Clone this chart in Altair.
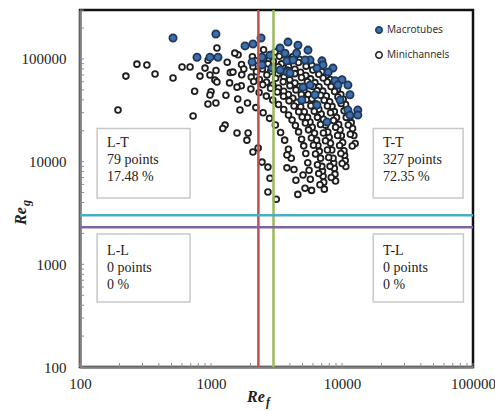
import altair as alt
import pandas as pd

# Macrotubes (Re_f, Re_g)
macro_ref = [513, 1090, 782, 982, 1130, 1820, 2090, 2410, 3365, 2060, 2450, 2820, 3800, 2920, 2450,
             3870, 3670, 4610, 5500, 5700, 7030, 7160, 6440, 8530, 8850, 10000, 11100, 9310, 5040, 6220,
             6440, 7680, 11100, 13200, 13200, 11500, 5220, 4230, 3800, 9660, 3365, 4010, 5700, 7850, 4940,
             4500, 11500]
macro_reg = [160000, 175000, 104000, 104000, 104000, 134000, 140000, 160000, 128000, 93300, 104000, 109000,
             95900, 81500, 87300, 146000, 114000, 136000, 122000, 97600, 95900, 87300, 81500, 81500, 61400,
             62900, 55700, 55700, 53200, 44800, 35600, 24300, 31800, 31800, 28400, 28400, 97600, 97600, 74500,
             39800, 78000, 72900, 55700, 74500, 39800, 114000, 44800]

# Minichannels, one run per mass flux
run1_ref = [12600, 12320, 12040, 11760, 11480, 11060, 10640, 10220, 9800, 9240, 8680, 8120, 7560, 7000,
            6440, 5880, 5320, 4760, 4200, 3640, 3080, 2520]
run1_reg = [15000, 18000, 21000, 24000, 27000, 31500, 36000, 40500, 45000, 51000, 57000, 63000, 69000,
            75000, 81000, 87000, 93000, 99000, 105000, 111000, 117000, 123000]

run1b_ref = [11970, 11571, 11172, 10773, 10374, 9842, 9310, 8778, 8246, 7714, 7182, 6650, 5985, 5320,
             4655, 3990, 3325]
run1b_reg = [14200, 18460, 22720, 26980, 31240, 36920, 42600, 48280, 53960, 59640, 65320, 71000, 78100,
             85200, 92300, 99400, 106500]

run2_ref = [10695, 10580, 10465, 10350, 10120, 9890, 9660, 9430, 9085, 8740, 8395, 8050, 7590, 7130, 6670,
            6210, 5750, 5290, 4830, 4370, 3910, 3450, 2990, 2530, 2070, 1610]
run2_reg = [8960, 10240, 11520, 12800, 15360, 17920, 20480, 23040, 26880, 30720, 34560, 38400, 43520, 48640,
            53760, 58880, 64000, 69120, 74240, 79360, 84480, 89600, 94720, 99840, 104960, 110080]

run2b_ref = [10028, 9810, 9592, 9265, 8938, 8611, 8175, 7739, 7303, 6867, 6431, 5995, 5450, 4905, 4360,
             3815, 3270, 2725, 2180]
run2b_reg = [9600, 12000, 14400, 18000, 21600, 25200, 30000, 34800, 39600, 44400, 49200, 54000, 60000,
             66000, 72000, 78000, 84000, 90000, 96000]

run3_ref = [8930, 8835, 8740, 8645, 8550, 8360, 8170, 7980, 7790, 7505, 7220, 6935, 6650, 6270, 5890, 5510,
            5130, 4750, 4370, 3990, 3610, 3230, 2850, 2470, 2090, 1710, 1330, 950]
run3_reg = [6480, 7560, 8640, 9720, 10800, 12960, 15120, 17280, 19440, 22680, 25920, 29160, 32400, 36720,
            41040, 45360, 49680, 54000, 58320, 62640, 66960, 71280, 75600, 79920, 84240, 88560, 92880, 97200]

run3b_ref = [8277, 8099, 7921, 7743, 7476, 7209, 6853, 6497, 6141, 5785, 5340, 4895, 4450, 4005, 3560,
             3115, 2670, 2225, 1780]
run3b_reg = [7000, 9000, 11000, 13000, 16000, 19000, 23000, 27000, 31000, 35000, 40000, 45000, 50000,
             55000, 60000, 65000, 70000, 75000, 80000]

run4_ref = [7332, 7254, 7176, 7098, 7020, 6864, 6708, 6552, 6396, 6162, 5928, 5694, 5460, 5148, 4836, 4524,
            4212, 3900, 3588, 3276, 2964, 2652, 2340, 2028, 1716, 1404, 1092]
run4_reg = [5400, 6300, 7200, 8100, 9000, 10800, 12600, 14400, 16200, 18900, 21600, 24300, 27000, 30600,
            34200, 37800, 41400, 45000, 48600, 52200, 55800, 59400, 63000, 66600, 70200, 73800, 77400]

run4b_ref = [6789, 6643, 6497, 6278, 6059, 5840, 5548, 5256, 4964, 4672, 4307, 3942, 3577, 3212, 2847,
             2482, 2117]
run4b_reg = [5950, 7650, 9350, 11900, 14450, 17000, 20400, 23800, 27200, 30600, 34850, 39100, 43350,
             47600, 51850, 56100, 60350]

run5_ref = [5859, 5733, 5607, 5481, 5292, 5103, 4914, 4662, 4410, 4158, 3906, 3591, 3276, 2961, 2646, 2331,
            2016, 1701, 1386, 1071]
run5_reg = [5250, 6750, 8250, 9750, 12000, 14250, 16500, 19500, 22500, 25500, 28500, 32250, 36000, 39750,
            43500, 47250, 51000, 54750, 58500, 62250]

run6_ref = [4600, 4450, 4300, 4100, 3900, 3650, 3400, 3100, 2800, 2500, 2200, 1900, 1600, 1300, 1000]
run6_reg = [4800, 6600, 8400, 10800, 13200, 16200, 19200, 22800, 26400, 30000, 33600, 37200, 40800, 44400,
            48000]

spread_ref = [195, 224, 272, 324, 374, 513, 601, 692, 730, 750, 824, 900, 982, 982, 948, 1090, 1110, 1280,
              1230, 1470, 1580, 1664, 1580, 1880, 1520, 1110, 1920, 2090, 2290, 2450, 2720, 2820, 2720, 3150,
              3800, 3800, 5040, 5220]
spread_reg = [31800, 68100, 89100, 87300, 71300, 65200, 83400, 83400, 27800, 48600, 68100, 81500, 69700,
              44500, 36400, 37300, 59600, 22700, 21000, 74500, 53200, 31800, 19000, 16200, 114000, 128000,
              19000, 12400, 13600, 9900, 8850, 6900, 5060, 4300, 11600, 8700, 7400, 5500]

# Flow-regime boundaries
ref_bounds = [2300, 3000]
reg_bounds = [3000, 2300]

# Flow-regime summary boxes
regions = ["L-T", "T-T", "L-L", "T-L"]
counts = ["79 points", "327 points", "0 points", "0 points"]
shares = ["17.48 %", "72.35 %", "0 %", "0 %"]
box_x0 = [135, 17300, 135, 17300]
box_x1 = [692, 84000, 692, 84500]
box_y0 = [4430, 4430, 430, 430]
box_y1 = [21000, 21000, 1970, 1970]
text_x = [161, 20600, 161, 20600]
text_y = [17700, 17700, 1580, 1580]

W, H = 393, 357

runs = [(run1_ref, run1_reg), (run1b_ref, run1b_reg), (run2_ref, run2_reg), (run2b_ref, run2b_reg),
        (run3_ref, run3_reg), (run3b_ref, run3b_reg), (run4_ref, run4_reg), (run4b_ref, run4b_reg),
        (run5_ref, run5_reg), (run6_ref, run6_reg), (spread_ref, spread_reg)]
rows = []
for refs, regs in runs:
    for a, b in zip(refs, regs):
        rows.append({"group": "Minichannels", "Ref": a, "Reg": b})
for a, b in zip(macro_ref, macro_reg):
    rows.append({"group": "Macrotubes", "Ref": a, "Reg": b})
points_df = pd.DataFrame(rows)

boxes_df = pd.DataFrame({
    "x0": box_x0, "x1": box_x1, "y0": box_y0, "y1": box_y1, "tx": text_x, "ty": text_y,
    "label": [f"{r}\n{c}\n{s}" for r, c, s in zip(regions, counts, shares)],
})

xs = alt.Scale(type="log", domain=[100, 100000], nice=False)
ys = alt.Scale(type="log", domain=[100, 300000], nice=False)

axis_common = dict(
    values=[100, 1000, 10000, 100000], format="d", ticks=False, grid=False, labelFlush=False,
    labelFont="Liberation Serif", labelFontSize=15, labelColor="#222222",
    domainColor="#808080", domainWidth=2.5,
)
x_axis = alt.Axis(labelPadding=9, **axis_common)
y_axis = alt.Axis(labelPadding=14, **axis_common)


def X(field):
    return alt.X(field, type="quantitative", scale=xs, axis=x_axis, title=None)


def Y(field):
    return alt.Y(field, type="quantitative", scale=ys, axis=y_axis, title=None)


groups = ["Macrotubes", "Minichannels"]
legend = alt.Legend(
    title=None, orient="none", legendX=294, legendY=15, labelFont="Noto Sans", labelFontSize=10,
    labelColor="#333333", symbolSize=42, symbolStrokeWidth=1.5, rowPadding=11, labelOffset=3,
    symbolType="circle",
)

boxes = alt.Chart(boxes_df).mark_rect(fill="white", stroke="#c8c8c8", strokeWidth=1.5).encode(
    x=X("x0"), x2="x1", y=Y("y0"), y2="y1"
)

points = alt.Chart(points_df).mark_point(filled=True, shape="circle", strokeWidth=1.8, opacity=1).encode(
    x=X("Ref"),
    y=Y("Reg"),
    fill=alt.Fill("group:N", scale=alt.Scale(domain=groups, range=["#3d6fae", "#ffffff"]), legend=legend),
    stroke=alt.Stroke("group:N", scale=alt.Scale(domain=groups, range=["#1f3858", "#1e1e1e"]), legend=legend),
    size=alt.condition("datum.group == 'Macrotubes'", alt.value(52), alt.value(33)),
)

vrules = alt.Chart(pd.DataFrame({"v": ref_bounds, "c": ["#c0504d", "#9bbb59"]})).mark_rule(
    strokeWidth=2.5
).encode(x=X("v"), color=alt.Color("c:N", scale=None))

hrules = alt.Chart(pd.DataFrame({"v": reg_bounds, "c": ["#4bacc6", "#8064a2"]})).mark_rule(
    strokeWidth=2.5
).encode(y=Y("v"), color=alt.Color("c:N", scale=None))

texts = alt.Chart(boxes_df).mark_text(
    align="left", baseline="top", font="Liberation Serif", fontSize=14, lineBreak="\n", lineHeight=17,
    color="#222222",
).encode(x=X("tx"), y=Y("ty"), text="label:N")

# inward minor ticks along the bottom and left axes
tick_x = [m * d for d in [100, 1000, 10000] for m in range(1, 10)] + [100000]
tick_y = [m * d for d in [100, 1000, 10000, 100000] for m in range(1, 10) if m * d <= 300000]
xticks = alt.Chart(pd.DataFrame({"t": tick_x})).mark_rule(color="#8a8a8a", strokeWidth=1).encode(
    x=X("t"), y=alt.value(H), y2=alt.value(H - 4)
)
yticks = alt.Chart(pd.DataFrame({"t": tick_y})).mark_rule(color="#8a8a8a", strokeWidth=1).encode(
    y=Y("t"), x=alt.value(0), x2=alt.value(4)
)

# axis titles with subscripts
title_style = dict(font="Liberation Serif", fontStyle="italic", fontWeight="bold", color="#222222")
one = pd.DataFrame({"k": [0]})
xt_main = alt.Chart(one).mark_text(align="left", baseline="alphabetic", fontSize=16, **title_style).encode(
    x=alt.value(167), y=alt.value(392), text=alt.value("Re"))
xt_sub = alt.Chart(one).mark_text(align="left", baseline="alphabetic", fontSize=12, **title_style).encode(
    x=alt.value(186), y=alt.value(396), text=alt.value("f"))
yt_main = alt.Chart(one).mark_text(align="left", baseline="alphabetic", angle=270, fontSize=16,
                                   **title_style).encode(
    x=alt.value(-54), y=alt.value(215), text=alt.value("Re"))
yt_sub = alt.Chart(one).mark_text(align="left", baseline="alphabetic", angle=270, fontSize=12,
                                  **title_style).encode(
    x=alt.value(-50), y=alt.value(196), text=alt.value("g"))

chart = alt.layer(
    boxes, xticks, yticks, points, vrules, hrules, texts, xt_main, xt_sub, yt_main, yt_sub
).properties(
    width=W, height=H,
    padding={"left": 80, "top": 10, "right": 22, "bottom": 44},
    autosize=alt.AutoSizeParams(type="none"),
    background="white",
).configure_view(stroke="#111111", strokeWidth=2.5)

chart.save("out.html", embed_options={"renderer": "svg", "actions": False})
